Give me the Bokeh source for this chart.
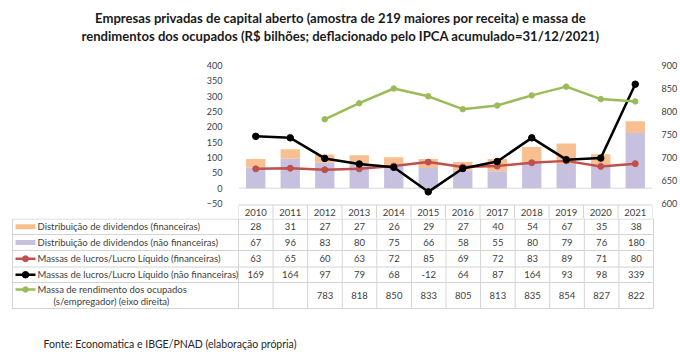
import math
from bokeh.plotting import figure
from bokeh.models import Range1d, LinearAxis, FixedTicker, Span, ColumnDataSource
from bokeh.core.properties import value
from bokeh.embed import file_html
from bokeh.resources import INLINE

# ---------------- data ----------------
years = ["2010", "2011", "2012", "2013", "2014", "2015", "2016", "2017", "2018", "2019", "2020", "2021"]
div_fin = [28, 31, 27, 27, 26, 29, 27, 40, 54, 67, 35, 38]
div_nao_fin = [67, 96, 83, 80, 75, 66, 58, 55, 80, 79, 76, 180]
lucro_fin = [63, 65, 60, 63, 72, 85, 69, 72, 83, 89, 71, 80]
lucro_nao_fin = [169, 164, 97, 79, 68, -12, 64, 87, 164, 93, 98, 339]
rendimento = [None, None, 783, 818, 850, 833, 805, 813, 835, 854, 827, 822]
left_ticks = [-50, 0, 50, 100, 150, 200, 250, 300, 350, 400]
right_ticks = [600, 650, 700, 750, 800, 850, 900]
series_names = [
    "Distribuição de dividendos  (financeiras)",
    "Distribuição de dividendos  (não financeiras)",
    "Massas de lucros/Lucro Líquido (financeiras)",
    "Massas de lucros/Lucro Líquido (não financeiras)",
    "Massa de rendimento dos ocupados",
]
green_name_line2 = "(s/empregador) (eixo direita)"
title_lines = [
    "Empresas privadas de capital aberto (amostra de 219 maiores por receita) e massa de",
    "rendimentos dos ocupados (R$ bilhões; deflacionado pelo IPCA acumulado=31/12/2021)",
]
source_text = "Fonte: Economatica e IBGE/PNAD (elaboração própria)"

# ---------------- style ----------------
FONT = "Lato"
PEACH = "#F8BF90"
LAV = "#C8C0DF"
RED = "#C0504D"
BLACK = "#000000"
GREEN = "#9BBB59"
BORDER = "#D4D4D4"
TXT = "#404040"
W = 680

n = len(years)
idx = list(range(n))

# ---------------- title figure ----------------
TTL_H = 56
tf = figure(width=W, height=TTL_H, x_range=Range1d(0, W), y_range=Range1d(TTL_H, 0),
            output_backend="svg", toolbar_location=None, min_border=0,
            x_axis_type=None, y_axis_type=None, outline_line_color=None)
tf.grid.visible = False
tf.text(x=[340, 340], y=[17, 35], text=title_lines, text_font=value(FONT),
        text_font_size="13.1px", text_font_style="bold", text_align="center",
        text_baseline="middle", text_color="#1a1a1a")

# ---------------- chart figure ----------------
PX = 138.0 / 450.0          # pixels per left-axis unit
CH_H = 162
TOP_PAD = 9
y_top = 400
y_bot = y_top - (CH_H - TOP_PAD) / PX
r_top = 900
r_bot = r_top - (CH_H - TOP_PAD) / (PX * 1.5)

p = figure(width=W, height=CH_H, x_range=Range1d(-0.5, n - 0.5),
           y_range=Range1d(y_bot, y_top), output_backend="svg",
           toolbar_location=None, x_axis_type=None,
           min_border_left=238, min_border_right=27, min_border_top=TOP_PAD,
           min_border_bottom=0, outline_line_color=None)
p.grid.visible = False
p.extra_y_ranges = {"right": Range1d(r_bot, r_top)}

for ax in p.yaxis:
    ax.ticker = FixedTicker(ticks=left_ticks)
    ax.axis_line_color = None
    ax.major_tick_line_color = None
    ax.minor_tick_line_color = None
    ax.major_label_standoff = 10
    ax.major_label_text_font = FONT
    ax.major_label_text_font_size = "9px"
    ax.major_label_text_color = TXT

rax = LinearAxis(y_range_name="right", ticker=FixedTicker(ticks=right_ticks),
                 axis_line_color=None, major_tick_line_color=None,
                 minor_tick_line_color=None, major_label_standoff=3,
                 major_label_text_font=FONT, major_label_text_font_size="9px",
                 major_label_text_color=TXT)
p.add_layout(rax, "right")

p.add_layout(Span(location=0, dimension="width", line_color="#D9D9D9",
                  line_width=1, level="underlay"))

src = ColumnDataSource(dict(
    x=idx,
    nf=div_nao_fin,
    tot=[a + b for a, b in zip(div_nao_fin, div_fin)],
    lf=lucro_fin,
    lnf=lucro_nao_fin,
    rend=[float("nan") if v is None else v for v in rendimento],
))
BW = 0.56
p.vbar(x="x", bottom=0, top="nf", width=BW, source=src, fill_color=LAV, line_color=None)
p.vbar(x="x", bottom="nf", top="tot", width=BW, source=src, fill_color=PEACH, line_color=None)

p.line("x", "lf", source=src, line_color=RED, line_width=2.5)
p.scatter("x", "lf", source=src, size=6, fill_color=RED, line_color=RED)
p.line("x", "lnf", source=src, line_color=BLACK, line_width=2.5)
p.scatter("x", "lnf", source=src, size=6.5, fill_color=BLACK, line_color=BLACK)
p.line("x", "rend", source=src, line_color=GREEN, line_width=2.5, y_range_name="right")
p.scatter("x", "rend", source=src, size=5.5, fill_color=GREEN, line_color=GREEN,
          y_range_name="right")

# header row (years) of the data table, in the bottom strip of the chart
def page_to_left(py):
    return y_top - (py - (TTL_H + TOP_PAD)) / PX

h_top = page_to_left(204.5)
h_mid = page_to_left(211.5)
p.segment(x0=[-0.5], y0=[h_top], x1=[n - 0.5], y1=[h_top], line_color=BORDER, line_width=1)
p.segment(x0=[i - 0.5 for i in range(n + 1)], y0=[h_top] * (n + 1),
          x1=[i - 0.5 for i in range(n + 1)], y1=[y_bot] * (n + 1),
          line_color=BORDER, line_width=1)
p.text(x=idx, y=[h_mid] * n, text=years, text_font=value(FONT), text_font_size="9.5px",
       text_align="center", text_baseline="middle", text_color=TXT)

# ---------------- table figure ----------------
TH = 142
t = figure(width=W, height=TH, x_range=Range1d(0, W), y_range=Range1d(TH, 0),
           output_backend="svg", toolbar_location=None, min_border=0,
           x_axis_type=None, y_axis_type=None, outline_line_color=None)
t.grid.visible = False

row_b = [0.5, 16, 32, 48.5, 64, 90]
col0 = 12
col_x0 = 238
col_x1 = 653
col_w = (col_x1 - col_x0) / n
col_b = [col_x0 + i * col_w for i in range(n + 1)]

t.segment(x0=[col0] * len(row_b), y0=row_b, x1=[col_b[-1]] * len(row_b), y1=row_b,
          line_color=BORDER, line_width=1)
vx = [col0] + col_b
t.segment(x0=vx, y0=[0] * len(vx), x1=vx, y1=[row_b[-1]] * len(vx),
          line_color=BORDER, line_width=1)

row_c = [(row_b[i] + row_b[i + 1]) / 2 for i in range(4)] + [71]
# legend keys
t.quad(left=[15, 15], right=[35, 35], top=[row_c[0] - 2.5, row_c[1] - 2.5],
       bottom=[row_c[0] + 2.5, row_c[1] + 2.5], fill_color=[PEACH, LAV], line_color=None)
for c, yy, lw, sz in [(RED, row_c[2], 2.5, 6), (BLACK, row_c[3], 2.5, 6.5), (GREEN, row_c[4], 2.5, 5.5)]:
    t.segment(x0=[15], y0=[yy], x1=[35], y1=[yy], line_color=c, line_width=lw)
    t.scatter(x=[25], y=[yy], size=sz, fill_color=c, line_color=c)

t.text(x=[37] * 5, y=row_c, text=series_names, text_font=value(FONT),
       text_font_size="9.5px", text_baseline="middle", text_color=TXT)
t.text(x=[53], y=[83], text=[green_name_line2], text_font=value(FONT),
       text_font_size="9.5px", text_baseline="middle", text_color=TXT)

rows = [div_fin, div_nao_fin, lucro_fin, lucro_nao_fin, rendimento]
tx, ty, tt = [], [], []
ycent = [(row_b[i] + row_b[i + 1]) / 2 for i in range(5)]
for r, vals in enumerate(rows):
    for i, v in enumerate(vals):
        if v is None:
            continue
        tx.append(col_x0 + (i + 0.5) * col_w)
        ty.append(ycent[r])
        tt.append(str(v))
t.text(x=tx, y=ty, text=tt, text_font=value(FONT), text_font_size="9.5px",
       text_align="center", text_baseline="middle", text_color=TXT)

t.text(x=[43], y=[125], text=[source_text], text_font=value(FONT),
       text_font_size="10.5px", text_baseline="middle", text_color="#262626")

open("out.html", "w").write(file_html([tf, p, t], INLINE))
